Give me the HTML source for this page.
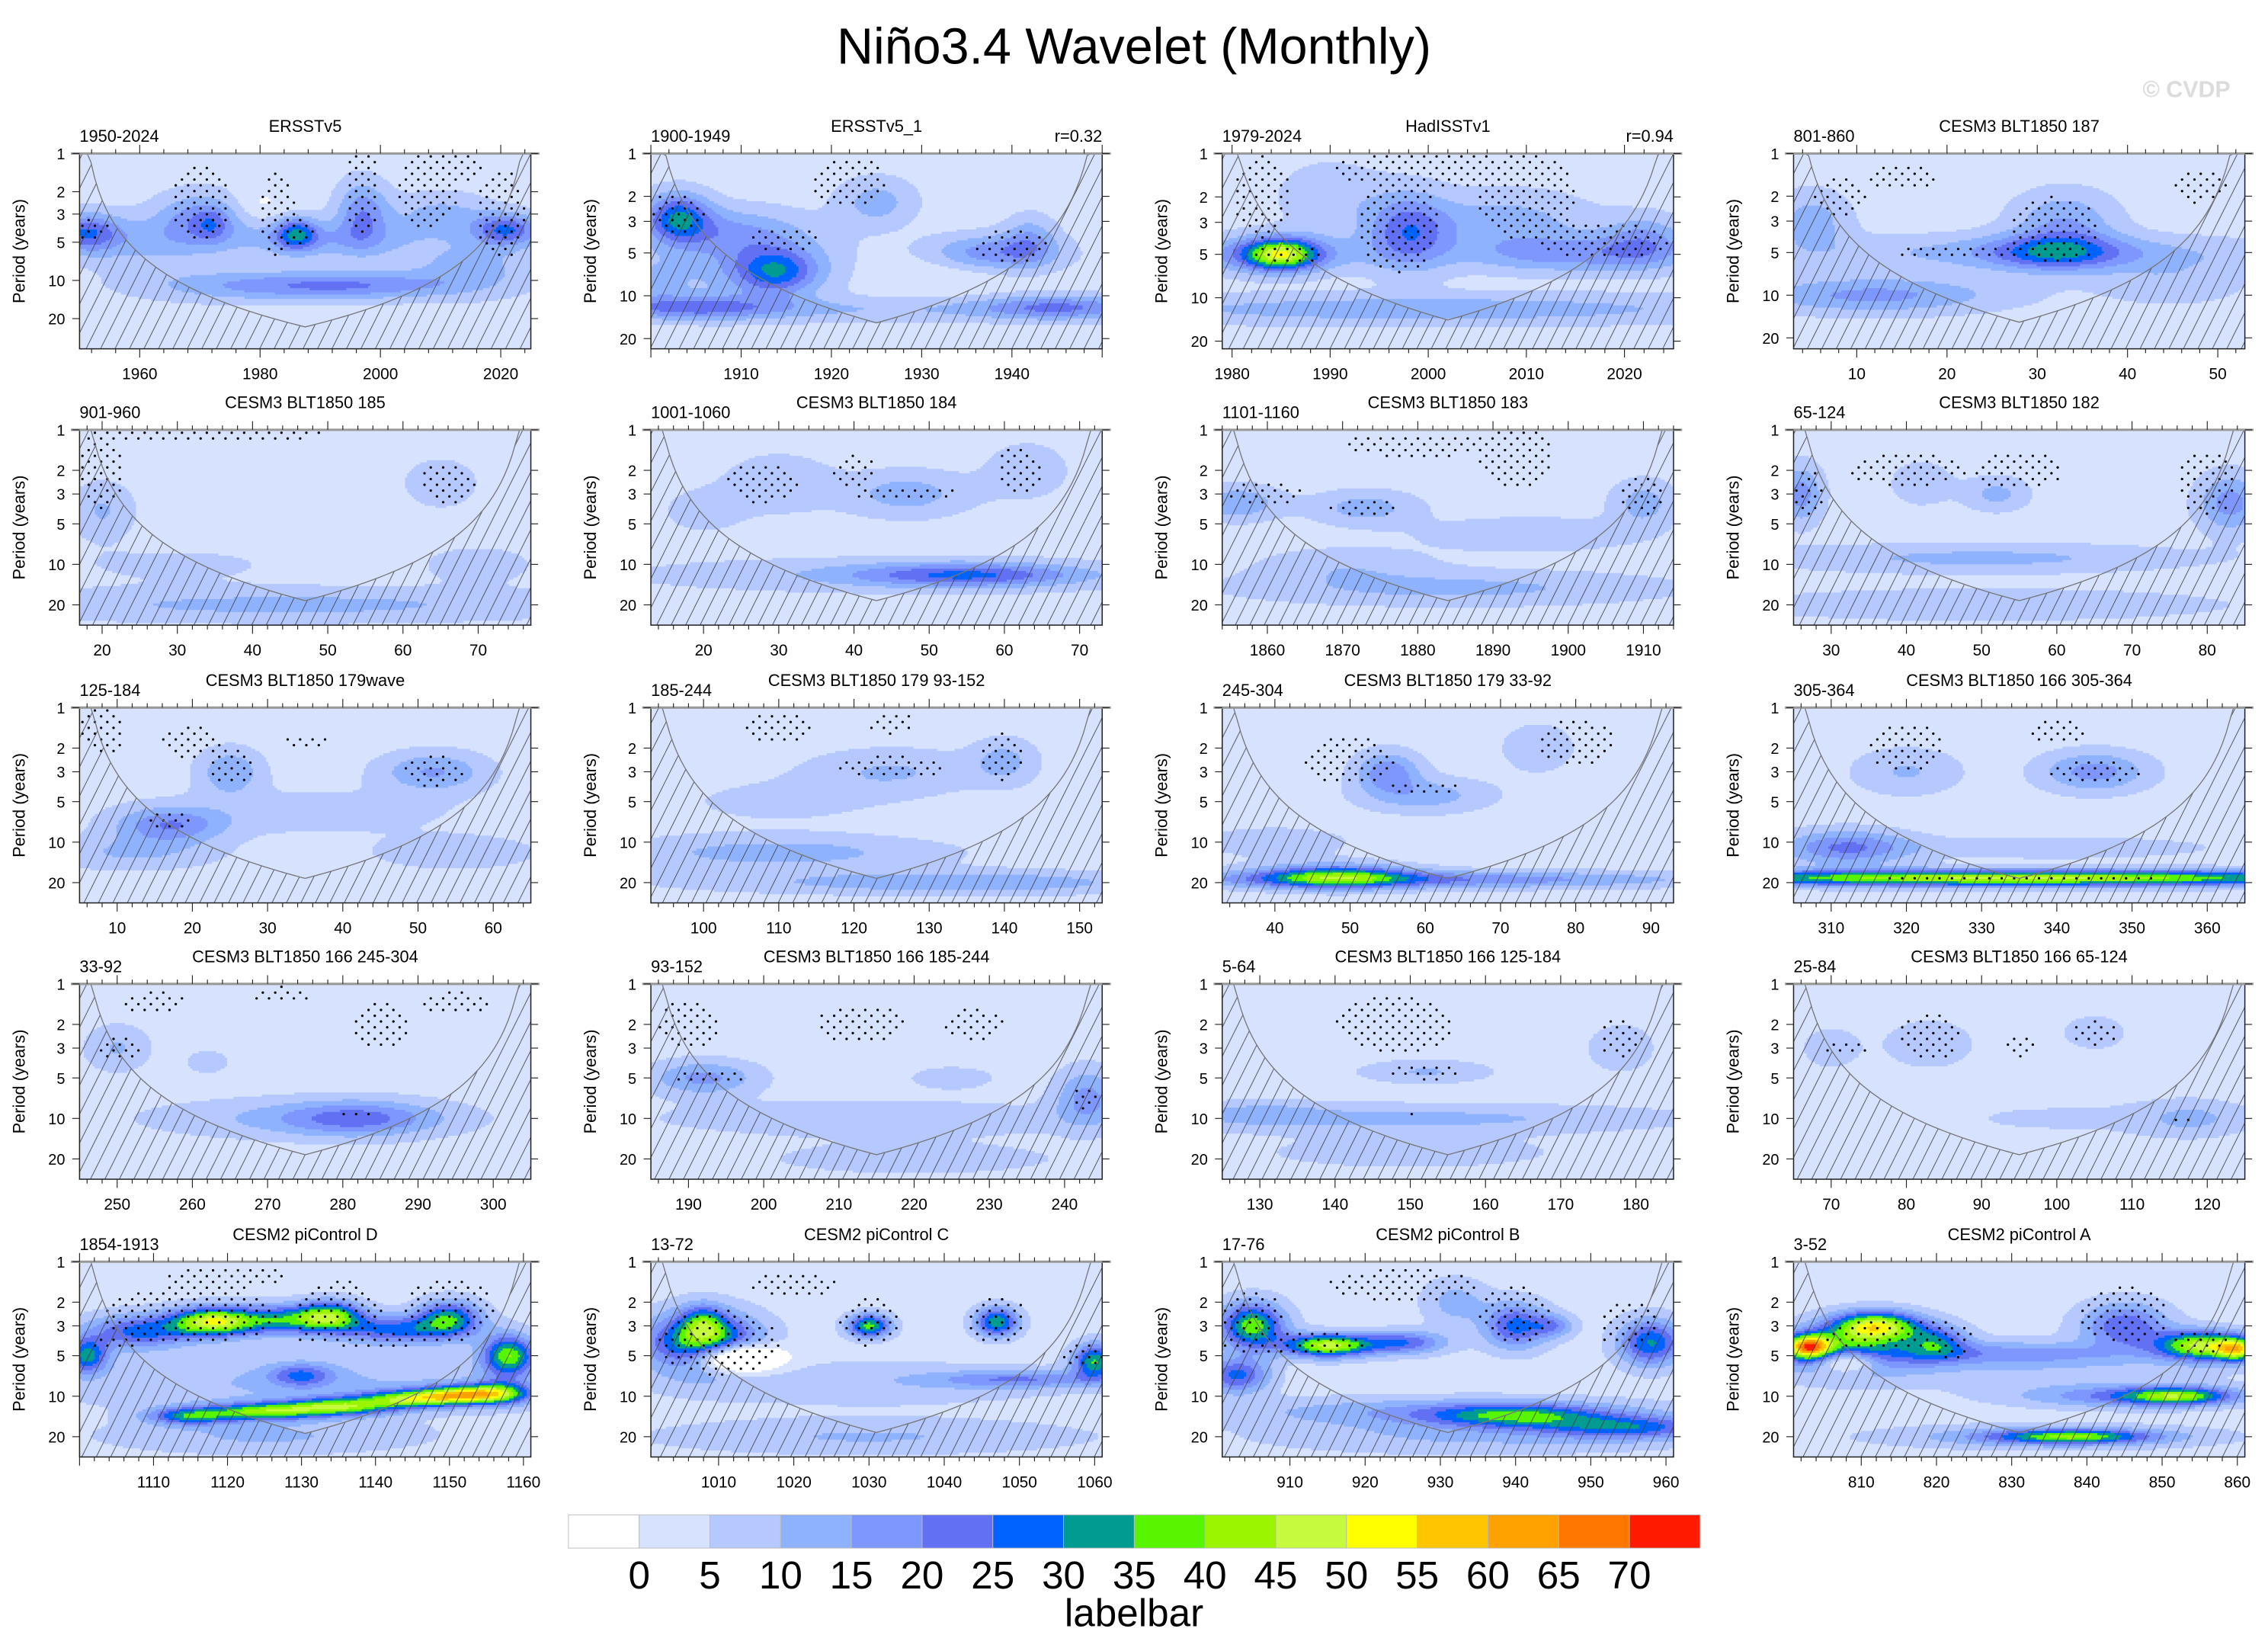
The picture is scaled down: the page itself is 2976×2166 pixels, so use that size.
<!DOCTYPE html>
<html><head><meta charset="utf-8">
<style>
html,body{margin:0;padding:0;background:#fff;}
svg{display:block;font-family:"Liberation Sans",Arial,sans-serif;}
</style></head>
<body>
<svg id="chart" xmlns="http://www.w3.org/2000/svg" width="2976" height="2166" viewBox="0 0 1568 1141">
<defs>
<pattern id="hatch" patternUnits="userSpaceOnUse" width="10" height="20">
<line x1="-10" y1="20" x2="0" y2="0" stroke="#444" stroke-width="0.45"/>
<line x1="0" y1="20" x2="10" y2="0" stroke="#444" stroke-width="0.45"/>
<line x1="10" y1="20" x2="20" y2="0" stroke="#444" stroke-width="0.45"/>
</pattern>
</defs>
<rect x="0" y="0" width="1568" height="1141" fill="#fff"/>
<text x="784" y="44" font-size="35" text-anchor="middle">Niño3.4 Wavelet (Monthly)</text>
<text x="1542" y="67" font-size="16" font-weight="bold" fill="#dcdcdc" text-anchor="end">© CVDP</text>
<g id="panels"></g>
<g id="labelbar"></g>
</svg>
<script>
const levelColors = ['#ffffff','#d7e2ff','#b5c8ff','#8fb2ff','#7e97ff','#6270f3','#0063ff','#009b91','#58f500','#9cf500','#c6fa3c','#ffff00','#ffc600','#ffa200','#ff7700','#ff1a00'];
const levelLabels = ['0','5','10','15','20','25','30','35','40','45','50','55','60','65','70'];
const panelTitles = ["ERSSTv5","ERSSTv5_1","HadISSTv1","CESM3 BLT1850 187","CESM3 BLT1850 185","CESM3 BLT1850 184","CESM3 BLT1850 183","CESM3 BLT1850 182","CESM3 BLT1850 179wave","CESM3 BLT1850 179 93-152","CESM3 BLT1850 179 33-92","CESM3 BLT1850 166 305-364","CESM3 BLT1850 166 245-304","CESM3 BLT1850 166 185-244","CESM3 BLT1850 166 125-184","CESM3 BLT1850 166 65-124","CESM2 piControl D","CESM2 piControl C","CESM2 piControl B","CESM2 piControl A"];
const yearLabels = ["1950-2024","1900-1949","1979-2024","801-860","901-960","1001-1060","1101-1160","65-124","125-184","185-244","245-304","305-364","33-92","93-152","5-64","25-84","1854-1913","13-72","17-76","3-52"];
const corrLabels = ["","r=0.32","r=0.94","","","","","","","","","","","","","","","","",""];
const timeStart = [1950,1900,1979,3,17,13,1854,25,5,93,33,305,245,185,125,65,1100,1001,901,801];
const timeEnd = [2025,1950,2025,53,77,73,1914,85,65,153,93,365,305,245,185,125,1161,1061,961,861];
const maxPeriods = [34.6,23.6,22.6,23.9,28.3,28.3,28.3,28.3,28.3,28.3,28.3,28.3,28.3,28.3,28.3,28.3,28.3,28.3,28.3,28.3];
const tickSteps = [20,10,10,10,10,10,10,10,10,10,10,10,10,10,10,10,10,10,10,10];
const periodTicks = [1,2,3,5,10,20];
// blobs: [time, period, sigmaTime(yrs), sigmaLog2Period, amplitude]
const powerBlobs = [
 [[1951,4.2,4,0.35,20],[1970,3.3,5,0.5,14],[1972,3.6,2,0.3,8],[1986,4.3,2.5,0.3,22],[1997,3,3,0.6,16],[1990,4.8,12,0.35,10],[2021,4,4,0.3,22],[2010,3,6,0.4,9],[1995,11,12,0.25,16],[1975,11,12,0.3,9],[1960,5,8,0.5,8],[2015,8,8,0.5,9],[1980,2.5,3,0.3,-4]],
 [[1903,2.8,2.5,0.4,24],[1908,3.5,6,0.4,10],[1914,6.8,3,0.35,18],[1912,6,6,0.6,12],[1938,5,5,0.3,16],[1942,4,2,0.4,10],[1925,2.2,3,0.4,10],[1932,7,5,0.3,-3],[1905,12,6,0.2,14],[1945,12,6,0.2,14],[1925,12.5,30,0.2,7],[1900,8,3,0.4,8]],
 [[1985,5,2.5,0.25,34],[1984,5,6,0.3,16],[1998,3.5,3,0.6,20],[2015,5,8,0.3,14],[2008,3,6,0.5,10],[2000,12,25,0.25,11],[1990,2,4,0.6,6],[2022,4,3,0.4,12]],
 [[32,5,5,0.3,18],[30,5,18,0.3,10],[33,3,4,0.5,12],[12,10,10,0.3,14],[5,3,3,0.5,10],[45,8,6,0.4,6]],
 [[45,20,30,0.3,9],[20,4,3,0.5,8],[70,10,5,0.3,6],[30,10,10,0.3,4],[65,2.5,4,0.5,5]],
 [[55,12,10,0.2,18],[45,12,25,0.3,7],[47,3,6,0.4,10],[30,2.5,5,0.5,7],[63,2,4,0.5,6],[20,4,4,0.4,5]],
 [[1856,3.5,4,0.3,12],[1873,3.8,5,0.3,10],[1895,6,10,0.3,7],[1910,3.5,3,0.4,10],[1885,15,20,0.3,9],[1870,10,8,0.3,6]],
 [[26,3,2,0.5,15],[83,3.5,3,0.5,15],[52,3,3,0.3,9],[50,9,20,0.25,9],[50,20,25,0.3,6],[42,2.5,3,0.4,6]],
 [[17,7.5,5,0.3,16],[12,12,8,0.3,8],[25,3,3,0.4,12],[52,3,5,0.35,13],[35,6,15,0.4,5],[55,12,8,0.3,6]],
 [[110,12,15,0.3,10],[140,20,15,0.2,8],[120,20,20,0.2,6],[125,3,8,0.4,8],[140,2.5,3,0.4,9],[110,5,10,0.4,4]],
 [[48,18,7,0.2,30],[60,19,25,0.15,17],[55,3,3,0.35,16],[60,4.5,6,0.3,10],[75,2,4,0.5,5],[40,10,8,0.3,5]],
 [[335,18.5,35,0.14,44],[312,11,6,0.3,18],[345,3,5,0.35,15],[340,11,15,0.2,6],[320,3,5,0.4,8]],
 [[282,10,7,0.3,14],[275,10,15,0.35,8],[250,3,3,0.4,8],[262,3.8,2,0.2,6]],
 [[192,5,5,0.3,14],[215,10,20,0.3,7],[243,7,3,0.5,14],[225,5,4,0.2,6],[220,20,15,0.3,5]],
 [[150,10,25,0.25,9],[130,9,6,0.2,6],[152,4.5,6,0.2,8],[178,3,3,0.4,7],[150,18,15,0.3,5]],
 [[83,2.8,4,0.4,7],[105,2.3,3,0.3,6],[118,10,5,0.3,8],[100,10,15,0.4,3],[70,3,3,0.4,5]],
 [[1115,14,4,0.15,28],[1125,13,5,0.15,34],[1135,12,5,0.15,36],[1145,10.5,5,0.15,36],[1152,9.7,4,0.15,40],[1157,9.5,3,0.2,26],[1118,2.8,4,0.25,44],[1108,3.3,5,0.3,24],[1128,2.7,5,0.25,28],[1134,2.5,3,0.25,30],[1143,3.2,6,0.25,24],[1150,2.6,3,0.3,28],[1158,5,2.5,0.35,36],[1101,5,2,0.3,28],[1130,7,3,0.2,18],[1130,8,25,0.5,8],[1125,20,15,0.3,8]],
 [[1008,4,5,0.5,40],[1012,5.2,4,0.25,-38],[1008,2.8,2,0.3,18],[1030,3,2,0.2,34],[1047,2.8,2,0.25,32],[1060,5.5,2,0.3,32],[1050,7.5,8,0.15,15],[1030,20,20,0.3,8],[1030,8,20,0.4,6]],
 [[915,4.2,4,0.2,44],[905,3,3,0.4,36],[925,4,4,0.2,22],[940,3,3,0.4,24],[945,3,2,0.2,14],[958,4,3,0.4,28],[903,7,3,0.3,24],[940,14,8,0.2,24],[930,13,20,0.25,12],[955,17,8,0.2,22],[935,20,20,0.3,8],[932,2,3,0.4,10]],
 [[803,4.3,2,0.2,50],[812,3,4,0.25,44],[808,4.5,6,0.4,30],[808,5.5,3,0.2,-28],[820,4,3,0.3,22],[830,4.8,10,0.2,12],[855,4.2,4,0.25,42],[860,4.5,2,0.2,40],[845,3,4,0.4,22],[852,10,5,0.15,30],[845,10,10,0.2,16],[838,20,7,0.12,28],[835,20,15,0.2,12],[830,6,20,0.4,6]]
];
// significance stipple regions: [time, period, halfWidthTime, halfWidthLog2Period]
const sigRegions = [
 [[1970,2.5,5,1.0],[1983,3,3,1.2],[1985,4.3,4,0.4],[1997,2,3,1.2],[2008,2,5,1.0],[2020,3,4,1.2],[1952,4,3,0.3],[2013,1.3,4,0.4]],
 [[1903,2.6,3,0.5],[1915,4,4,0.3],[1922,1.6,4,0.6],[1940,4.5,4,0.4]],
 [[1983,2,3,1.0],[1986,5,4,0.2],[1997,3,4,1.2],[2010,2,5,1.0],[2018,4,7,0.4],[2000,1.3,10,0.4]],
 [[8,2,3,0.5],[15,1.5,4,0.3],[32,3.5,5,0.8],[48,1.7,3,0.4],[25,5,12,0.15]],
 [[20,2,3,1.0],[66,2.5,4,0.5],[35,1.1,20,0.1]],
 [[28,2.5,5,0.5],[47,3,7,0.2],[62,2,3,0.6],[40,2,3,0.4]],
 [[1860,3,5,0.3],[1873,3.8,5,0.2],[1893,1.6,5,0.8],[1910,3,3,0.5],[1880,1.3,10,0.3]],
 [[27,3,2,0.6],[40,2,8,0.4],[55,2,6,0.5],[80,2.5,4,0.8]],
 [[17,7,4,0.2],[25,2.7,3,0.5],[52,3,4,0.4],[20,1.8,4,0.4],[8,1.5,3,0.6],[35,1.8,3,0.2]],
 [[125,2.8,7,0.3],[140,2.3,3,0.6],[110,1.4,5,0.4],[125,1.3,3,0.3]],
 [[50,2.5,6,0.6],[60,4,5,0.2],[80,1.8,5,0.6]],
 [[335,18.5,18,0.05],[345,3,6,0.3],[320,2,5,0.6],[340,1.5,4,0.3]],
 [[250,3,3,0.3],[255,1.4,4,0.3],[272,1.2,4,0.2],[285,2,4,0.6],[295,1.4,5,0.3],[282,9.5,2,0.1]],
 [[193,5,5,0.15],[190,2,4,0.6],[213,2,6,0.5],[228,2,4,0.4],[243,7,2,0.3]],
 [[148,2,8,0.7],[152,4.5,5,0.2],[178,2.5,3,0.5],[150,9,2,0.05]],
 [[83,2.5,4,0.6],[95,3,2,0.3],[105,2.3,3,0.3],[117,10,2,0.05],[72,3,3,0.2]],
 [[1115,2.5,12,0.7],[1135,2.4,6,0.8],[1150,2.3,6,0.8],[1140,3.7,12,0.2],[1120,1.3,8,0.3],[1105,4,4,0.2]],
 [[1010,4,8,0.8],[1030,2.8,4,0.6],[1047,2.7,4,0.6],[1020,1.5,6,0.3],[1058,5,3,0.3]],
 [[910,4,10,0.3],[905,2.5,4,0.6],[940,2.5,5,0.7],[955,3,4,0.6],[925,1.5,10,0.4]],
 [[815,3.5,10,0.4],[845,2.5,6,0.7],[855,4,4,0.3],[822,4.7,3,0.2]]
];
const basePower = 2.5;
const coiFactor = 0.62;

const NS = 'http://www.w3.org/2000/svg';
const colX = [55,450,845,1240], rowY = [106,297,489,680,872];
const PW = 312, PH = 135;
function el(tag, parent, attrs){ const e=document.createElementNS(NS,tag); for(const k in attrs) e.setAttribute(k,attrs[k]); parent.appendChild(e); return e; }
function levelIndex(v){ if(v<0) return 0; return Math.min(15, Math.floor(v/5)+1); }
const root = document.getElementById('panels');

for(let p=0;p<20;p++){
  const x0 = colX[p%4], y0 = rowY[Math.floor(p/4)];
  const t0 = timeStart[p], t1 = timeEnd[p], lmax = Math.log2(maxPeriods[p]);
  const xScale = t => x0 + (t-t0)/(t1-t0)*PW;
  const yScale = per => y0 + Math.log2(per)/lmax*PH;
  const g = el('g', root, {});
  
  
  const cp = el('clipPath', g, {id:'clip'+p});
  el('rect', cp, {x:x0, y:y0, width:PW, height:PH});
  const body = el('g', g, {'clip-path':'url(#clip'+p+')'});
  
  
  const blobs = powerBlobs[p];
  const cs = 1.5, nx = Math.round(PW/cs), ny = Math.round(PH/cs);
  for(let j=0;j<ny;j++){
    const lp = (j+0.5)*cs/PH*lmax;
    let runStart=0, runIdx=-1;
    for(let i=0;i<=nx;i++){
      let idx=-2;
      if(i<nx){
        const t = t0 + (i+0.5)*cs/PW*(t1-t0);
        let v = basePower;
        for(const b of blobs){
          const dt=(t-b[0])/b[2], dl=(lp-Math.log2(b[1]))/b[3];
          v += b[4]*Math.exp(-0.5*(dt*dt+dl*dl));
        }
        idx = levelIndex(v);
      }
      if(idx!==runIdx){
        if(runIdx>=0){
          const r = el('rect', body, {x:(x0+runStart*cs).toFixed(2), y:(y0+j*cs).toFixed(2), width:((i-runStart)*cs+0.4).toFixed(2), height:(cs+0.4).toFixed(2), fill:levelColors[runIdx]});
          
          
        }
        runStart=i; runIdx=idx;
      }
    }
  }
  const sig = sigRegions[p];
  const dxs=4.3, dys=4.0;
  let di=0;
  for(let yy=y0+2; yy<y0+PH; yy+=dys, di++){
    const lp = (yy-y0)/PH*lmax;
    for(let xx=x0+2+((di%2)?dxs:0); xx<x0+PW; xx+=dxs*2){
      const t = t0+(xx-x0)/PW*(t1-t0);
      let inside=false;
      for(const s of sig){
        const a=(t-s[0])/s[2], b=(lp-Math.log2(s[1]))/s[3];
        if(a*a+b*b<1){inside=true;break;}
      }
      if(inside){
        const c = el('circle', body, {cx:xx.toFixed(2), cy:yy.toFixed(2), r:0.85, fill:'#000'});
        
        
      }
    }
  }
  const pts=[];
  for(let i=0;i<=120;i++){
    const t = t0+(t1-t0)*i/120;
    const per = Math.max(1e-3, coiFactor*Math.min(t-t0,t1-t));
    const yv = Math.min(y0+PH, Math.max(y0, yScale(per)));
    pts.push(xScale(t).toFixed(2)+','+yv.toFixed(2));
  }
  const hatch = el('polygon', body, {points: pts.join(' ')+' '+(x0+PW)+','+(y0+PH)+' '+x0+','+(y0+PH), fill:'url(#hatch)'});
  
  
  const coi = el('polyline', body, {points: pts.join(' '), fill:'none', stroke:'#777', 'stroke-width':0.7});
  
  
  const fr = el('rect', g, {x:x0, y:y0, width:PW, height:PH, fill:'none', stroke:'#222', 'stroke-width':0.8});
  
  
  const topl = el('line', g, {x1:x0-6, y1:y0, x2:x0+PW+6, y2:y0, stroke:'#999', 'stroke-width':1.6});
  
  
  const step = tickSteps[p], minor = step/5;
  for(let v=Math.ceil(t0/minor)*minor; v<=t1+1e-9; v+=minor){
    const x = xScale(v);
    const major = Math.abs(v/step-Math.round(v/step))<1e-6;
    const len = major?6:3;
    const a = el('line', g, {x1:x, y1:y0+PH, x2:x, y2:y0+PH+len, stroke:'#222', 'stroke-width':0.6});
    
    
    const b = el('line', g, {x1:x, y1:y0, x2:x, y2:y0-len, stroke:'#222', 'stroke-width':0.6});
    
    
    if(major && x>x0+3 && x<=x0+PW-2){
      const tl = el('text', g, {x:x, y:y0+PH+21, 'font-size':11, 'text-anchor':'middle'});
      tl.textContent = String(v);
      
      
    }
  }
  for(const per of periodTicks){
    const y = yScale(per);
    if(y>y0+PH) continue;
    const a = el('line', g, {x1:x0-5, y1:y, x2:x0, y2:y, stroke:'#222', 'stroke-width':0.6});
    
    
    const b = el('line', g, {x1:x0+PW, y1:y, x2:x0+PW+5, y2:y, stroke:'#222', 'stroke-width':0.6});
    
    
    const tl = el('text', g, {x:x0-10, y:y+4, 'font-size':10.5, 'text-anchor':'end'});
    tl.textContent = String(per);
    
    
  }
  const yt = el('text', g, {x:0, y:0, 'font-size':11.5, 'text-anchor':'middle', transform:'translate('+(x0-38)+','+(y0+PH/2)+') rotate(-90)'});
  yt.textContent = 'Period (years)';
  
  
  const ti = el('text', g, {x:x0+PW/2, y:y0-15, 'font-size':11.5, 'text-anchor':'middle'});
  ti.textContent = panelTitles[p];
  
  
  const yl = el('text', g, {x:x0, y:y0-8, 'font-size':11.5});
  yl.textContent = yearLabels[p];
  
  
  if(corrLabels[p]){
    const rl = el('text', g, {x:x0+PW, y:y0-8, 'font-size':11.5, 'text-anchor':'end'});
    rl.textContent = corrLabels[p];
    
    
  }
}
const lb = document.getElementById('labelbar');
const bx0 = 393, bw = 48.9, by = 1047, bh = 23;
levelColors.forEach((c,i)=>{
  const r = el('rect', lb, {x:(bx0+i*bw).toFixed(2), y:by, width:bw.toFixed(2), height:bh, fill:c, stroke:'#bbb', 'stroke-width':0.5});
  
  
});
levelLabels.forEach((s,i)=>{
  const t = el('text', lb, {x:(bx0+(i+1)*bw).toFixed(2), y:1098, 'font-size':27, 'text-anchor':'middle'});
  t.textContent = s;
  
  
});
const lbt = el('text', lb, {x:784, y:1124, 'font-size':27, 'text-anchor':'middle'});
lbt.textContent = 'labelbar';


</script>
</body></html>
